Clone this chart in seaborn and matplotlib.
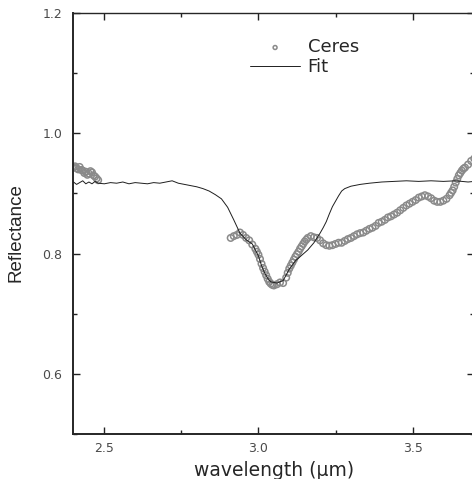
import numpy as np
import pandas as pd
import matplotlib
matplotlib.use("Agg")
import matplotlib.pyplot as plt
import seaborn as sns
from matplotlib.ticker import MultipleLocator

# Ceres spectrum, two pieces with a gap in between
ceres_x_left = [2.40, 2.405, 2.41, 2.415, 2.42, 2.425, 2.43, 2.435, 2.44, 2.445,
                2.45, 2.455, 2.46, 2.465, 2.47, 2.475, 2.48]
ceres_y_left = [0.943, 0.945, 0.942, 0.940, 0.944, 0.939, 0.938, 0.934, 0.936, 0.931,
                0.933, 0.937, 0.935, 0.930, 0.928, 0.925, 0.922]

ceres_x_mid = [2.91, 2.92, 2.93, 2.94, 2.95, 2.96, 2.97, 2.98, 2.99, 2.995,
               3.00, 3.005, 3.01, 3.015, 3.02, 3.025, 3.03, 3.035, 3.04, 3.045,
               3.05, 3.06, 3.07, 3.08, 3.09, 3.095, 3.10, 3.105, 3.11, 3.115,
               3.12, 3.125, 3.13, 3.135, 3.14, 3.145, 3.15, 3.155, 3.16, 3.17,
               3.18, 3.19, 3.20, 3.21, 3.22, 3.23, 3.24, 3.25, 3.26, 3.27,
               3.28, 3.29, 3.30, 3.31, 3.32, 3.33, 3.34, 3.35, 3.36, 3.37,
               3.38, 3.39, 3.40, 3.41, 3.42, 3.43, 3.44, 3.45, 3.46, 3.47,
               3.48, 3.49, 3.50, 3.51, 3.52, 3.53, 3.54, 3.55, 3.56, 3.57,
               3.58, 3.59, 3.60, 3.61, 3.62, 3.625, 3.63, 3.635, 3.64, 3.645,
               3.65, 3.655, 3.66, 3.665, 3.67, 3.68, 3.69, 3.70]
ceres_y_mid = [0.826, 0.829, 0.831, 0.835, 0.831, 0.826, 0.822, 0.815, 0.808, 0.803,
               0.798, 0.791, 0.783, 0.776, 0.770, 0.764, 0.758, 0.753, 0.750, 0.748,
               0.747, 0.749, 0.752, 0.751, 0.760, 0.768, 0.775, 0.780, 0.785, 0.790,
               0.795, 0.799, 0.803, 0.808, 0.812, 0.816, 0.820, 0.823, 0.826, 0.829,
               0.827, 0.826, 0.822, 0.817, 0.814, 0.813, 0.814, 0.816, 0.818, 0.818,
               0.821, 0.824, 0.826, 0.829, 0.832, 0.834, 0.835, 0.838, 0.841, 0.843,
               0.846, 0.851, 0.853, 0.856, 0.860, 0.862, 0.865, 0.868, 0.872, 0.876,
               0.880, 0.883, 0.886, 0.889, 0.893, 0.895, 0.897, 0.895, 0.892, 0.888,
               0.886, 0.886, 0.888, 0.891, 0.897, 0.901, 0.905, 0.911, 0.918, 0.924,
               0.930, 0.934, 0.938, 0.941, 0.943, 0.948, 0.954, 0.958]

# model fit
fit_x = [2.40, 2.41, 2.42, 2.43, 2.44, 2.45, 2.46, 2.47, 2.48, 2.50,
         2.52, 2.54, 2.56, 2.58, 2.60, 2.62, 2.64, 2.66, 2.68, 2.70,
         2.72, 2.74, 2.76, 2.78, 2.80, 2.82, 2.84, 2.86, 2.88, 2.90,
         2.92, 2.94, 2.96, 2.98, 3.00, 3.01, 3.02, 3.03, 3.04, 3.06,
         3.08, 3.10, 3.12, 3.14, 3.16, 3.18, 3.19, 3.20, 3.21, 3.22,
         3.23, 3.24, 3.25, 3.26, 3.27, 3.28, 3.30, 3.33, 3.36, 3.40,
         3.44, 3.48, 3.52, 3.56, 3.60, 3.64, 3.68, 3.70]
fit_y = [0.919, 0.915, 0.918, 0.921, 0.916, 0.919, 0.916, 0.920, 0.917, 0.916,
         0.918, 0.917, 0.919, 0.916, 0.918, 0.917, 0.916, 0.918, 0.917, 0.919,
         0.921, 0.917, 0.915, 0.913, 0.911, 0.908, 0.904, 0.898, 0.891, 0.877,
         0.856, 0.834, 0.823, 0.816, 0.796, 0.780, 0.768, 0.759, 0.753, 0.751,
         0.755, 0.774, 0.788, 0.797, 0.806, 0.818, 0.826, 0.834, 0.843, 0.853,
         0.866, 0.878, 0.887, 0.896, 0.904, 0.908, 0.912, 0.915, 0.917, 0.919,
         0.920, 0.921, 0.920, 0.921, 0.920, 0.921, 0.919, 0.920]

ceres = pd.DataFrame({"x": ceres_x_left + ceres_x_mid,
                      "y": ceres_y_left + ceres_y_mid})
fit = pd.DataFrame({"x": fit_x, "y": fit_y})

sns.set_theme(style="ticks")
plt.rcParams["font.family"] = ["DejaVu Sans"]

fig = plt.figure(figsize=(4.72, 4.79), dpi=100)
ax = fig.add_axes([0.1557, 0.0939, 0.849, 0.879])

sns.lineplot(data=fit, x="x", y="y", ax=ax, color="#1e1e1e", lw=0.7,
             label="Fit", sort=False, zorder=3)
sns.scatterplot(data=ceres, x="x", y="y", ax=ax, marker="o", s=22,
                facecolor="none", edgecolor="#8a8a8a", linewidth=1.1,
                label="Ceres", zorder=2)

ax.set_xlim(2.4, 3.7)
ax.set_ylim(0.5, 1.2)
ax.xaxis.set_major_locator(MultipleLocator(0.5))
ax.xaxis.set_minor_locator(MultipleLocator(0.25))
ax.yaxis.set_major_locator(MultipleLocator(0.2))
ax.yaxis.set_minor_locator(MultipleLocator(0.1))
ax.tick_params(which="both", direction="in", top=True, right=True,
               labelsize=9, labelcolor="#4a4a4a", color="#222222")
ax.tick_params(axis="x", pad=6)
ax.tick_params(axis="y", pad=8)
ax.tick_params(which="major", length=5, width=1)
ax.tick_params(which="minor", length=3, width=1)
for side in ["left", "bottom"]:
    ax.spines[side].set_linewidth(1.4)
for side in ["top", "right"]:
    ax.spines[side].set_linewidth(1.0)

ax.set_xlabel("wavelength (\u03bcm)", fontsize=13.5, labelpad=4)
ax.set_ylabel("Reflectance", fontsize=13.5, family=["Liberation Sans"])
ax.yaxis.set_label_coords(-0.122, 0.478)

h, l = ax.get_legend_handles_labels()
ax.legend(h[::-1], l[::-1], loc="upper left", bbox_to_anchor=(0.44, 0.94),
          frameon=False, fontsize=13, handlelength=2.8, handletextpad=0.4,
          labelspacing=0.1, borderpad=0, borderaxespad=0, markerscale=0.6)

fig.savefig("out.png", dpi=100)
